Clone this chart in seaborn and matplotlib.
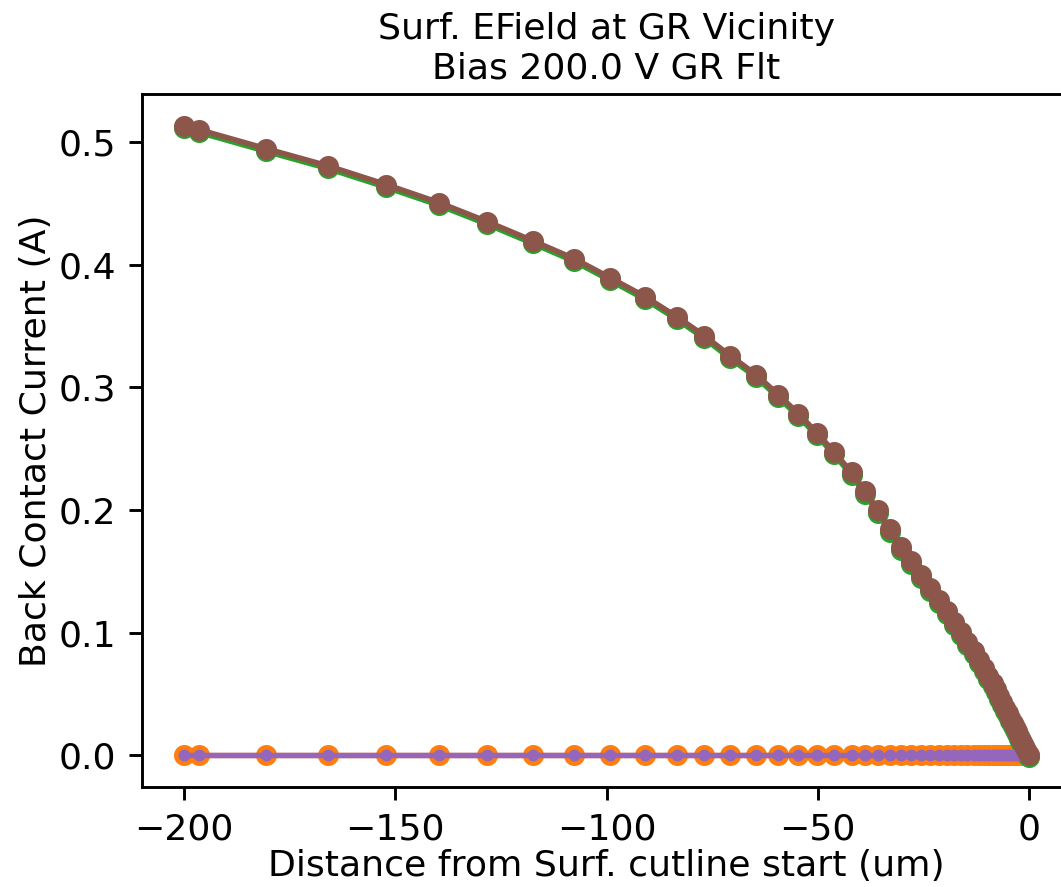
import matplotlib
matplotlib.use("Agg")
import matplotlib.pyplot as plt
import seaborn as sns
import pandas as pd

# ---- data ----
distance_um = [
    -200.0, -196.4, -180.5, -166.0, -152.1, -139.6, -128.2, -117.5, -107.7, -99.2,
    -90.9, -83.4, -76.9, -70.8, -64.6, -59.4, -54.6, -50.3, -46.2, -42.0,
    -38.8, -35.7, -32.9, -30.3, -27.9, -25.6, -23.4, -21.4, -19.5, -17.8,
    -16.1, -14.6, -13.1, -11.8, -10.7, -9.6, -8.6, -7.8, -7.0, -6.3,
    -5.6, -5.0, -4.4, -3.8, -3.3, -2.8, -2.4, -1.9, -1.4, -0.9,
    -0.5, 0.0,
]

current_brown = [
    0.5134, 0.5102, 0.4947, 0.4808, 0.4654, 0.4507, 0.4352, 0.4197, 0.4051, 0.3896,
    0.3741, 0.3578, 0.3423, 0.3260, 0.3105, 0.2942, 0.2787, 0.2632, 0.2477, 0.2306,
    0.2152, 0.1997, 0.1842, 0.1695, 0.1581, 0.1467, 0.1361, 0.1263, 0.1174, 0.1084,
    0.1002, 0.0921, 0.0847, 0.0774, 0.0709, 0.0644, 0.0587, 0.0538, 0.0481, 0.0432,
    0.0383, 0.0342, 0.0302, 0.0261, 0.0228, 0.0196, 0.0155, 0.0122, 0.0090, 0.0057,
    0.0024, 0.0000,
]

current_green = [
    0.5112, 0.5080, 0.4925, 0.4786, 0.4632, 0.4485, 0.4330, 0.4175, 0.4029, 0.3874,
    0.3719, 0.3556, 0.3401, 0.3238, 0.3083, 0.2920, 0.2765, 0.2610, 0.2455, 0.2284,
    0.2130, 0.1975, 0.1820, 0.1673, 0.1559, 0.1445, 0.1339, 0.1241, 0.1152, 0.1062,
    0.0980, 0.0899, 0.0825, 0.0752, 0.0687, 0.0622, 0.0565, 0.0516, 0.0459, 0.0410,
    0.0361, 0.0320, 0.0280, 0.0239, 0.0206, 0.0174, 0.0133, 0.0100, 0.0068, 0.0035,
    0.0002, -0.0016,
]

current_orange = [0.0] * len(distance_um)
current_purple = [0.0] * len(distance_um)

title_text = "Surf. EField at GR Vicinity\nBias 200.0 V GR Flt"
x_label = "Distance from Surf. cutline start (um)"
y_label = "Back Contact Current (A)"

# ---- figure ----
DPI = 214
S = 1.22  # size scale
fig = plt.figure(figsize=(1061 / DPI, 887 / DPI), dpi=DPI)
ax = fig.add_axes([0.1336, 0.1131, 0.8761, 0.7806])

series = [
    ("orange", current_orange, "#ff7f0e", 5.8 * S),
    ("green", current_green, "#2ca02c", 5.8 * S),
    ("purple", current_purple, "#9467bd", 3.3 * S),
    ("brown", current_brown, "#8c564b", 5.8 * S),
]

for name, vals, col, ms in series:
    df = pd.DataFrame({"x": distance_um, "y": vals})
    sns.lineplot(data=df, x="x", y="y", ax=ax, color=col, marker="o",
                 markersize=ms, markeredgecolor=col, markeredgewidth=0,
                 linewidth=1.5 * S, sort=False, errorbar=None, estimator=None)

FS = 10 * S
ax.set_xlim(-210, 10)
ax.set_ylim(-0.0257, 0.5391)
ax.set_xticks([-200, -150, -100, -50, 0])
ax.set_xticklabels(["\u2212200", "\u2212150", "\u2212100", "\u221250", "0"])
ax.set_yticks([0.0, 0.1, 0.2, 0.3, 0.4, 0.5])
ax.set_yticklabels(["0.0", "0.1", "0.2", "0.3", "0.4", "0.5"])
ax.set_title(title_text, fontsize=FS, pad=5.2)
ax.set_xlabel(x_label, fontsize=FS, labelpad=1.0)
ax.set_ylabel(y_label, fontsize=FS, labelpad=2.0)
ax.tick_params(labelsize=FS, width=0.8 * S, length=3.5 * S, pad=3.5 * S)
for sp in ax.spines.values():
    sp.set_linewidth(0.8 * S)

fig.savefig("out.png", dpi=DPI)
